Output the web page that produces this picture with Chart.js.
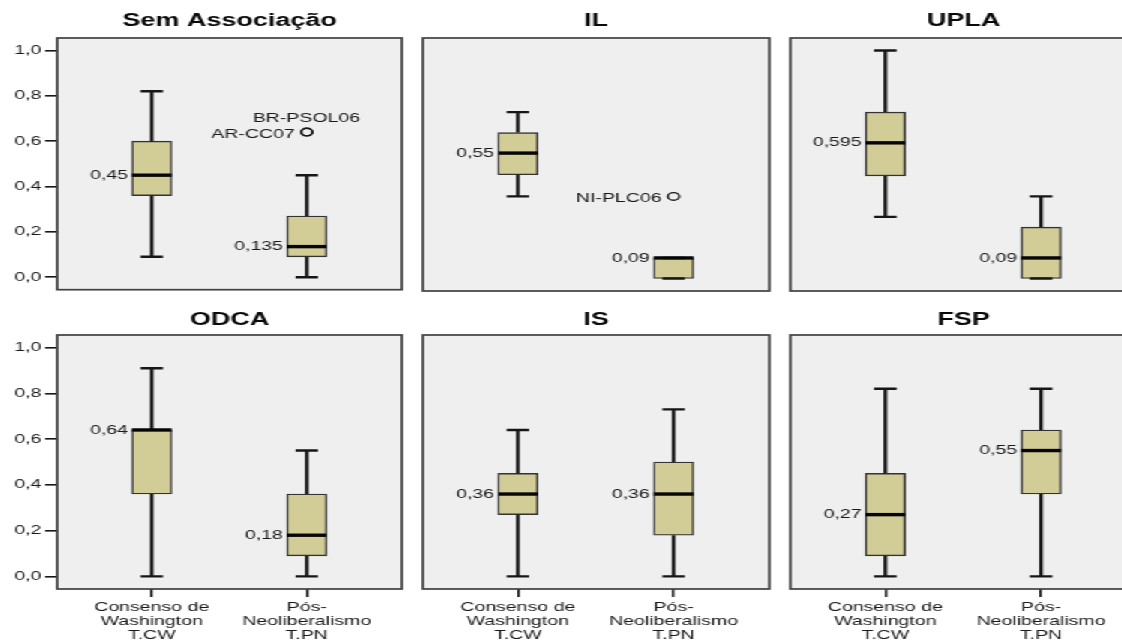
<!DOCTYPE html>
<html>
<head>
<meta charset="utf-8">
<script src="https://cdn.jsdelivr.net/npm/chart.js@4.4.1/dist/chart.umd.min.js"></script>
<style>
  html, body { margin: 0; padding: 0; background: #fff; overflow: hidden; }
  /* the original picture is stretched sideways, so the whole grid is too */
  #wrap { position: relative; width: 760px; height: 643px; transform: scaleX(1.5); transform-origin: 0 0; }
  #wrap canvas { position: absolute; }
</style>
</head>
<body>
<div id="wrap"></div>
<script>
const panelTitles = ["Sem Associação", "IL", "UPLA", "ODCA", "IS", "FSP"];
const groupLabels = [["Consenso de", "Washington", "T.CW"], ["Pós-", "Neoliberalismo", "T.PN"]];
const yTicks = [0, 0.2, 0.4, 0.6, 0.8, 1.0];

// one pair per panel: [Consenso de Washington, Pós-Neoliberalismo]
const whiskerLow = [[0.09, 0], [0.36, 0], [0.27, 0], [0, 0], [0, 0], [0, 0]];
const q1 = [[0.36, 0.09], [0.455, 0], [0.45, 0], [0.36, 0.09], [0.27, 0.18], [0.09, 0.36]];
const median = [[0.45, 0.135], [0.55, 0.09], [0.595, 0.09], [0.64, 0.18], [0.36, 0.36], [0.27, 0.55]];
const q3 = [[0.6, 0.27], [0.64, 0.09], [0.73, 0.225], [0.64, 0.36], [0.45, 0.5], [0.45, 0.64]];
const whiskerHigh = [[0.82, 0.45], [0.73, 0.09], [1.0, 0.36], [0.91, 0.55], [0.64, 0.73], [0.82, 0.82]];

const outlierPanel = [0, 0, 1];
const outlierGroup = [1, 1, 1];
const outlierValue = [0.64, 0.64, 0.36];
const outlierName = ["AR-CC07", "BR-PSOL06", "NI-PLC06"];

const FONT = "'Liberation Sans', Arial, sans-serif";
const INK = "#161616";
const TEXT = "#1a1a1a";

// canvas boxes, in unstretched pixels
const cols = [
  { left: 0, width: 270, padLeft: 0, axis: true },
  { left: 280, width: 235, padLeft: 2, axis: false },
  { left: 525, width: 235, padLeft: 2, axis: false },
];
const rows = [
  { top: 0, height: 300, titleTop: 10, titleBottom: 6.4, bottomAxis: false },
  { top: 300, height: 343, titleTop: 9, titleBottom: 4.4, bottomAxis: true },
];

function formatComma(v) {
  return String(v).replace(".", ",");
}

const boxPlotPlugin = {
  id: "boxPlot",
  beforeDraw(chart) {
    const { ctx, chartArea: a } = chart;
    ctx.save();
    ctx.fillStyle = "#efefef";
    ctx.fillRect(a.left, a.top, a.width, a.height);
    ctx.restore();
  },
  afterDatasetsDraw(chart, args, opts) {
    const p = opts.panel;
    const { ctx } = chart;
    const xs = chart.scales.x;
    const ys = chart.scales.y;
    const bars = chart.getDatasetMeta(0).data;

    ctx.save();
    for (let g = 0; g < 2; g++) {
      const x = xs.getPixelForValue(g);
      const bar = bars[g];
      const half = bar.width / 2;
      const capHalf = 7.5;

      // whiskers
      ctx.strokeStyle = INK;
      ctx.lineWidth = 2.4;
      ctx.beginPath();
      const yHi = ys.getPixelForValue(whiskerHigh[p][g]);
      const yLo = ys.getPixelForValue(whiskerLow[p][g]);
      ctx.moveTo(x, ys.getPixelForValue(q3[p][g]));
      ctx.lineTo(x, yHi);
      ctx.moveTo(x, ys.getPixelForValue(q1[p][g]));
      ctx.lineTo(x, yLo);
      ctx.moveTo(x - capHalf, yHi);
      ctx.lineTo(x + capHalf, yHi);
      ctx.moveTo(x - capHalf, yLo);
      ctx.lineTo(x + capHalf, yLo);
      ctx.stroke();

      // median
      const yMed = ys.getPixelForValue(median[p][g]);
      ctx.strokeStyle = "#050505";
      ctx.lineWidth = 3.4;
      ctx.beginPath();
      ctx.moveTo(bar.x - half, yMed);
      ctx.lineTo(bar.x + half, yMed);
      ctx.stroke();

      ctx.fillStyle = TEXT;
      ctx.font = "13px " + FONT;
      ctx.textAlign = "right";
      ctx.textBaseline = "middle";
      ctx.fillText(formatComma(median[p][g]), bar.x - half - 2.5, yMed);
    }

    // outlier names
    ctx.font = "13px " + FONT;
    ctx.fillStyle = TEXT;
    ctx.textBaseline = "middle";
    const seen = {};
    for (let i = 0; i < outlierName.length; i++) {
      if (outlierPanel[i] !== p) continue;
      const key = outlierGroup[i] + ":" + outlierValue[i];
      const k = seen[key] || 0;
      seen[key] = k + 1;
      const px = xs.getPixelForValue(outlierGroup[i]);
      const py = ys.getPixelForValue(outlierValue[i]);
      if (k === 0) {
        ctx.textAlign = "right";
        ctx.fillText(outlierName[i], px - 8, py + 2);
      } else {
        ctx.textAlign = "left";
        ctx.fillText(outlierName[i], px - 36, py - 13.5);
      }
    }
    ctx.restore();
  },
  afterDraw(chart) {
    const { ctx, chartArea: a } = chart;
    ctx.save();
    ctx.strokeStyle = "#404040";
    ctx.lineWidth = 1.7;
    ctx.strokeRect(a.left, a.top, a.width, a.height);
    ctx.restore();
  },
};

const wrap = document.getElementById("wrap");

for (let p = 0; p < 6; p++) {
  const col = cols[p % 3];
  const row = rows[Math.floor(p / 3)];

  const canvas = document.createElement("canvas");
  canvas.width = col.width;
  canvas.height = row.height;
  canvas.style.left = col.left + "px";
  canvas.style.top = row.top + "px";
  wrap.appendChild(canvas);

  const outliers = [];
  for (let i = 0; i < outlierName.length; i++) {
    if (outlierPanel[i] === p) outliers.push({ x: outlierGroup[i], y: outlierValue[i] });
  }

  new Chart(canvas, {
    type: "bar",
    data: {
      datasets: [
        {
          type: "bar",
          data: [0, 1].map((g) => ({ x: g, y: [q1[p][g], q3[p][g]] })),
          backgroundColor: "#d2cc96",
          borderColor: "#333",
          borderWidth: 1.4,
          borderSkipped: false,
          barThickness: 26.7,
        },
        {
          type: "scatter",
          data: outliers,
          pointStyle: "circle",
          pointRadius: 3.8,
          pointBorderWidth: 1.4,
          pointBorderColor: INK,
          pointBackgroundColor: "rgba(0,0,0,0)",
        },
      ],
    },
    options: {
      responsive: false,
      animation: false,
      devicePixelRatio: 1,
      layout: {
        autoPadding: false,
        padding: { left: col.padLeft, right: 2, top: 0, bottom: row.bottomAxis ? 0 : 9 },
      },
      plugins: {
        legend: { display: false },
        tooltip: { enabled: false },
        title: {
          display: true,
          text: panelTitles[p],
          fullSize: false,
          color: "#0a0a0a",
          font: { family: FONT, size: 18, weight: "bold", lineHeight: 1.2 },
          padding: { top: row.titleTop, bottom: row.titleBottom },
        },
        boxPlot: { panel: p },
      },
      scales: {
        x: {
          type: "linear",
          min: -0.61,
          max: 1.615,
          offset: false,
          display: row.bottomAxis,
          afterBuildTicks: (scale) => {
            scale.ticks = [0, 1].map((v) => ({ value: v }));
          },
          afterFit: (scale) => {
            if (row.bottomAxis) scale.height = 54;
          },
          border: { display: false },
          grid: { offset: false, drawOnChartArea: false, drawTicks: true, tickLength: 8, color: INK, lineWidth: 1.6 },
          ticks: {
            padding: 3,
            maxRotation: 0,
            autoSkip: false,
            color: TEXT,
            font: { family: FONT, size: 13, lineHeight: 1.1 },
            callback: (v, i) => groupLabels[i],
          },
        },
        y: {
          type: "linear",
          min: -0.055,
          max: 1.055,
          display: col.axis,
          afterBuildTicks: (scale) => {
            scale.ticks = yTicks.map((v) => ({ value: v }));
          },
          afterFit: (scale) => {
            if (col.axis) scale.width = 38;
          },
          border: { display: false },
          grid: { drawOnChartArea: false, drawTicks: true, tickLength: 8, color: INK, lineWidth: 1.6 },
          ticks: {
            padding: 2.5,
            color: TEXT,
            font: { family: FONT, size: 13 },
            callback: (v) => v.toFixed(1).replace(".", ","),
          },
        },
      },
    },
    plugins: [boxPlotPlugin],
  });
}
</script>
</body>
</html>
